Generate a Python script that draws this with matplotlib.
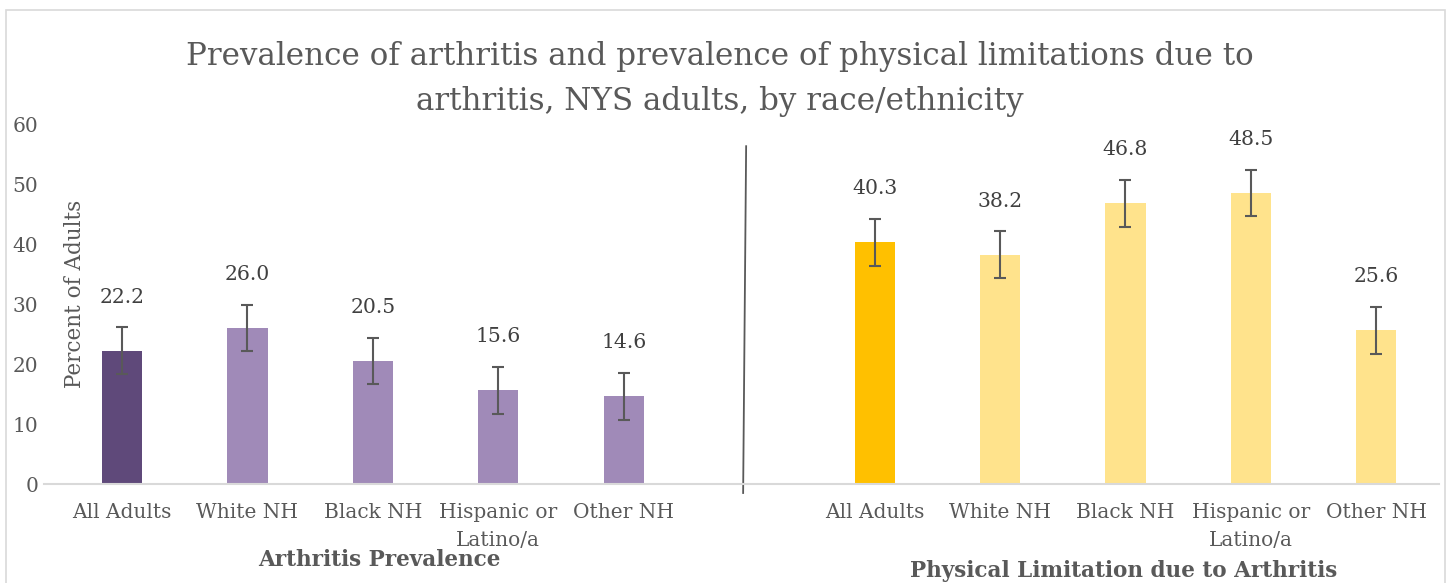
import numpy as np
import matplotlib.pyplot as plt
from matplotlib.patches import Rectangle

# Datos
groups = ["All Adults", "White NH", "Black NH", "Hispanic or\nLatino/a", "Other NH"]
prevalence = [22.2, 26.0, 20.5, 15.6, 14.6]
prevalence_err = [3.9, 3.9, 3.9, 3.9, 3.9]
limitation = [40.3, 38.2, 46.8, 48.5, 25.6]
limitation_err = [3.9, 3.9, 3.9, 3.9, 3.9]
section_titles = ["Arthritis Prevalence", "Physical Limitation due to Arthritis"]
title = ("Prevalence of arthritis and prevalence of physical limitations due to\n"
         "arthritis, NYS adults, by race/ethnicity")

purple_colors = ["#5F497A", "#A08AB8", "#A08AB8", "#A08AB8", "#A08AB8"]
yellow_colors = ["#FFC000", "#FFE38C", "#FFE38C", "#FFE38C", "#FFE38C"]
gray = "#595959"

plt.rcParams["font.family"] = ["DejaVu Serif"]

fig = plt.figure(figsize=(14.48, 5.83), dpi=100)
ax = fig.add_axes([44 / 1448, 99 / 583, 1395 / 1448, 360 / 583])

# posiciones: 5 barras, hueco, 5 barras
x_left = np.arange(5)
x_right = np.arange(6, 11)

ekw = dict(ecolor=gray, elinewidth=1.5, capsize=4, capthick=1.5)
ax.bar(x_left, prevalence, width=0.32, color=purple_colors,
       yerr=prevalence_err, error_kw=ekw)
ax.bar(x_right, limitation, width=0.32, color=yellow_colors,
       yerr=limitation_err, error_kw=ekw)

# etiquetas de valor
for xs, vals in [(x_left, prevalence), (x_right, limitation)]:
    for x, v in zip(xs, vals):
        ax.text(x, v + 8.9, f"{v:.1f}", ha="center", va="center",
                fontsize=14.7, color="#404040")

ax.set_ylim(0, 60)
ax.set_xlim(-0.622, 10.5)
ax.set_yticks(range(0, 61, 10))
ax.set_xticks(list(x_left) + list(x_right))
ax.set_xticklabels(groups + groups, linespacing=1.6)
ax.tick_params(axis="both", length=0, labelsize=14.5, colors=gray)
ax.tick_params(axis="x", pad=14)
ax.tick_params(axis="y", pad=4)

for s in ["left", "right", "top"]:
    ax.spines[s].set_visible(False)
ax.spines["bottom"].set_color("#D9D9D9")
ax.spines["bottom"].set_linewidth(1.5)

# linea divisoria
ax.plot([4.976, 4.952], [56.3, -1.5], color=gray, lw=1.3, clip_on=False)

# titulos
fig.text(720 / 1448, 1 - 79 / 583, title, ha="center", va="center",
         fontsize=22.3, color=gray, linespacing=1.6)
fig.text(75 / 1448, 1 - 294 / 583, "Percent of Adults", rotation=90,
         ha="center", va="center", fontsize=15.5, color=gray)
fig.text(379 / 1448, 1 - 560 / 583, section_titles[0], ha="center", va="center",
         fontsize=15.5, fontweight="bold", color=gray)
fig.text(1124 / 1448, 1 - 571 / 583, section_titles[1], ha="center", va="center",
         fontsize=15.5, fontweight="bold", color=gray)

# borde del grafico
fig.patches.append(Rectangle((6 / 1448, -0.1), 1439 / 1448, 1.1 - 10 / 583,
                             transform=fig.transFigure, fill=False,
                             edgecolor="#D9D9D9", lw=1.2))

fig.savefig("out.png", dpi=100)
